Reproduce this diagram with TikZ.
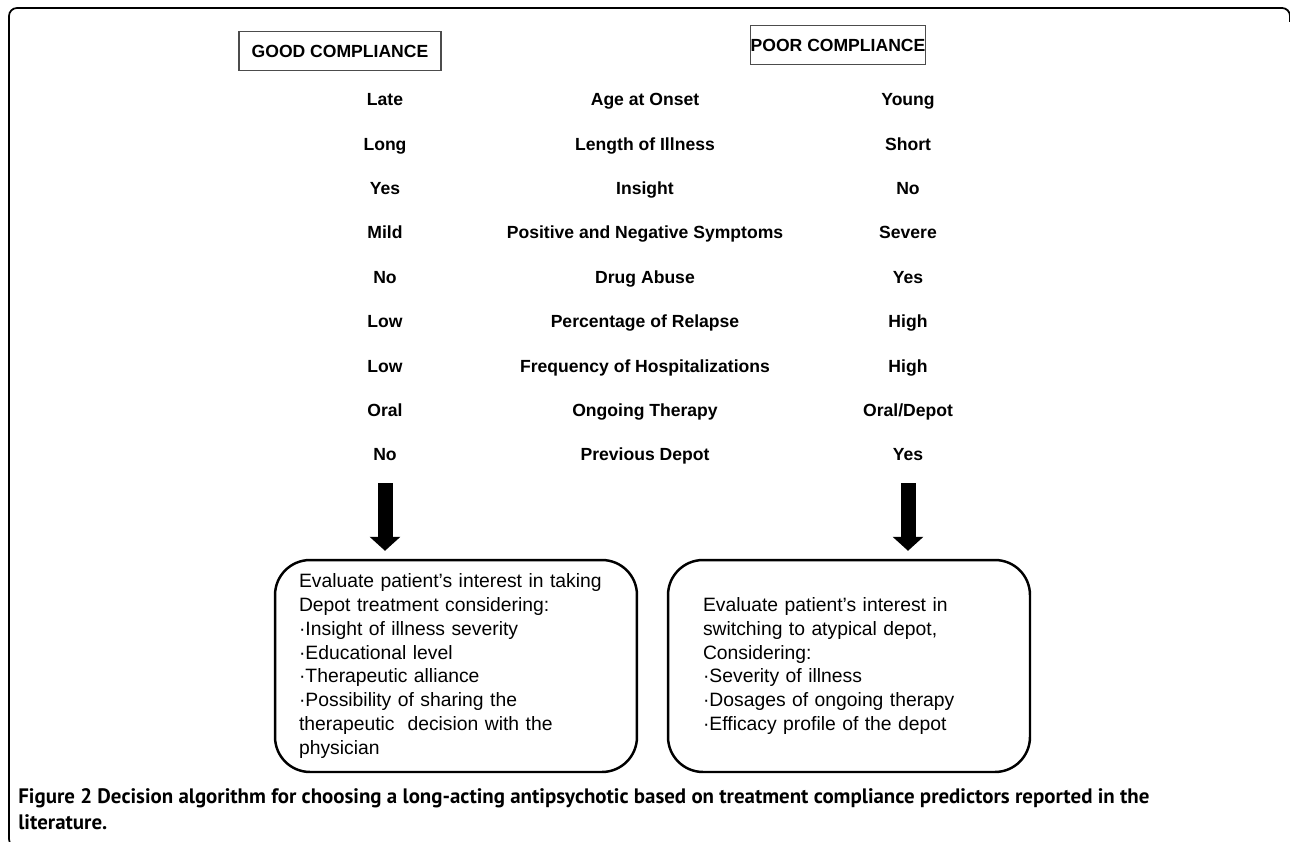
\documentclass[tikz,border=0pt]{standalone}
\usepackage{fontspec}
\setmainfont{Liberation Sans}
\newfontfamily\capfont{PT Sans}
\usetikzlibrary{arrows.meta}

\begin{document}
\begin{tikzpicture}
  [
    x=0.02cm, y=-0.02cm,
    head/.style={draw=black!70, line width=0.8pt, minimum height=0.77cm,
      inner sep=0pt, font=\bfseries\fontsize{10}{12}\selectfont},
    item/.style={inner sep=1pt, text height=1.6ex, text depth=0.5ex,
      font=\bfseries\fontsize{10}{12}\selectfont},
    advice/.style={draw=black, line width=1.4pt, rounded corners=0.7cm,
      minimum width=7.24cm, minimum height=4.24cm, align=left,
      font=\fontsize{11}{13.6}\selectfont},
    fat/.style={line width=0.3cm, shorten >=0.16cm,
      -{Triangle[width=0.6cm,length=0.28cm]}}
  ]
  \useasboundingbox (0,0) rectangle (1290,841);
  \draw [line width=1pt, rounded corners=0.16cm]
    (1290,22) -- (1290,8) -- (9,8) -- (9,847) -- (24,847);

  \node (good) at (340,51) [head, minimum width=4.04cm] {GOOD COMPLIANCE};
  \node (poor) at (838,45) [head, minimum width=3.46cm] {POOR COMPLIANCE};

  \node (g1) at (385,100) [item] {Late};
  \node (g2) at (385,145) [item] {Long};
  \node (g3) at (385,189) [item] {Yes};
  \node (g4) at (385,233) [item] {Mild};
  \node (g5) at (385,278) [item] {No};
  \node (g6) at (385,322) [item] {Low};
  \node (g7) at (385,367) [item] {Low};
  \node (g8) at (385,411) [item] {Oral};
  \node (g9) at (385,455) [item] {No};

  \node (f1) at (645,100) [item] {Age at Onset};
  \node (f2) at (645,145) [item] {Length of Illness};
  \node (f3) at (645,189) [item] {Insight};
  \node (f4) at (645,233) [item] {Positive and Negative Symptoms};
  \node (f5) at (645,278) [item] {Drug Abuse};
  \node (f6) at (645,322) [item] {Percentage of Relapse};
  \node (f7) at (645,367) [item] {Frequency of Hospitalizations};
  \node (f8) at (645,411) [item] {Ongoing Therapy};
  \node (f9) at (645,455) [item] {Previous Depot};

  \node (p1) at (908,100) [item] {Young};
  \node (p2) at (908,145) [item] {Short};
  \node (p3) at (908,189) [item] {No};
  \node (p4) at (908,233) [item] {Severe};
  \node (p5) at (908,278) [item] {Yes};
  \node (p6) at (908,322) [item] {High};
  \node (p7) at (908,367) [item] {High};
  \node (p8) at (908,411) [item] {Oral/Depot};
  \node (p9) at (908,455) [item] {Yes};

  \node (gbox) at (456,666) [advice, inner xsep=0.48cm, text width=6.28cm]
    {Evaluate patient’s interest in taking\\
     Depot treatment considering:\\
     ·Insight of illness severity\\
     ·Educational level\\
     ·Therapeutic alliance\\
     ·Possibility of sharing the\\
     therapeutic\ \ decision with the\\
     physician};
  \node (pbox) at (849,666) [advice, inner xsep=0.7cm, text width=5.84cm]
    {Evaluate patient’s interest in\\
     switching to atypical depot,\\
     Considering:\\
     ·Severity of illness\\
     ·Dosages of ongoing therapy\\
     ·Efficacy profile of the depot};

  \coordinate (gtail) at (385,483);
  \coordinate (ptail) at (908,483);
  \draw [fat] (gtail) -- (gtail |- gbox.north);
  \draw [fat] (ptail) -- (ptail |- pbox.north);

  \node (cap) at (18,809) [anchor=west, inner sep=0pt, align=left,
    font=\capfont\bfseries\fontsize{11.9}{14.7}\selectfont]
    {Figure 2 Decision algorithm for choosing a long-acting antipsychotic based on treatment compliance predictors reported in the\\
     literature.};
\end{tikzpicture}
\end{document}
